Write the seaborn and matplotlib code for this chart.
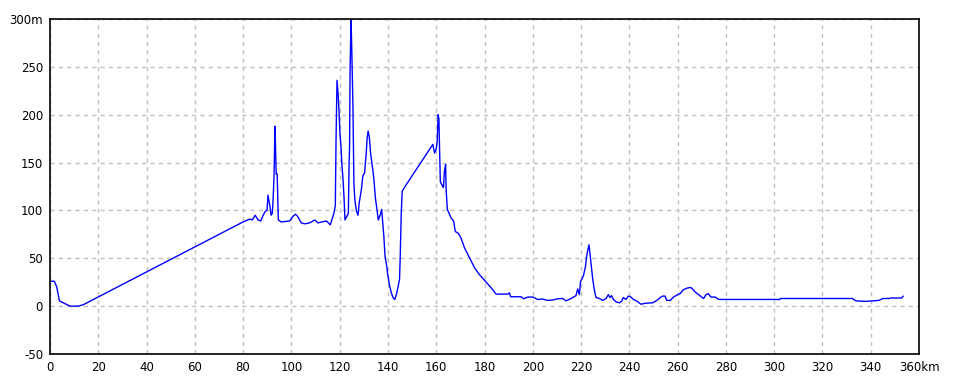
import matplotlib
matplotlib.use("Agg")
import matplotlib.pyplot as plt
import seaborn as sns
import pandas as pd

km = [0, 1.8, 2.8, 3.9, 5.9, 8.3, 11.7, 13.8,
      80, 82.8, 83.8, 85, 86.2, 87.3, 88.3, 89.2, 89.9, 90.3, 90.7, 91.2, 91.6, 92.1, 92.4, 92.8,
      93.2, 93.4, 93.7, 94.1, 94.6, 95.8, 99.3, 100.7, 101.7, 102.5, 104.1, 105.5, 107.6, 109.7,
      111, 114.5, 116.1, 117.6, 118.2, 118.5, 118.9, 119.4, 119.8, 120.1, 120.6, 120.9, 121.4,
      121.8, 122.2, 123.0, 123.6, 123.9, 124.1, 124.3, 124.7, 125.0, 125.2, 125.5, 125.9, 126.3,
      126.9, 127.6, 128.1, 129, 129.6, 130.3, 131, 131.4, 131.8, 132.3, 132.8, 133.4, 133.8,
      134.2, 134.8, 135.4, 136, 136.6, 137, 137.4, 137.7, 138.3, 138.8, 139.5, 139.9, 140.7,
      141.4, 142.1, 142.8, 143.5, 144.1, 144.8, 145.1, 145.5, 145.9, 147.6,
      158.6, 159.3, 160, 160.4, 160.8, 161.1, 161.4, 161.7, 162.5, 163, 163.4, 163.9, 164.1,
      164.6, 165.5, 166.2, 167.2, 167.9, 169.2, 170.3, 171.7, 173.1, 174.5, 175.9, 177.9,
      180.7, 182.8, 184.8, 189.7, 190.3, 190.8, 193.1, 195.2, 196.2, 198, 200, 202, 204.1,
      206.2, 208.3, 210.3, 212.4, 213.8, 215.9, 217.9, 218.6, 219.3, 219.8, 220.3, 221, 221.8,
      222.3, 222.9, 223.3, 223.6, 224.1, 224.8, 225.5, 226.2, 227.6, 229, 230.4, 231.3, 232,
      232.6, 233.4, 234.5, 235.9, 236.8, 237.5, 238.6, 239.6, 240.4, 241.7, 243, 244.8, 246.6,
      249.7, 251.4, 252.8, 253.8, 254.8, 255.5, 257, 258.3, 260, 261, 262.3, 264.1, 265.5,
      266.5, 267.6, 269, 269.9, 270.8, 271.7, 272.7, 273.8, 275.6, 277,
      302.3, 302.7, 332.4, 333.8, 338, 343.4, 345.1, 347.6, 348.3, 352.8, 353.5]

elev = [26, 26, 20, 5.5, 3, 0, 0, 1.5,
        88, 91, 90, 95, 90, 89, 95, 99, 100, 116, 110, 103, 95, 97, 110, 135,
        188, 170, 138, 138, 90, 88, 89, 94, 96, 94, 87, 86, 87, 90,
        87, 89, 85, 97, 105, 174, 236, 220, 200, 181, 165, 149, 132,
        114, 90, 94, 97, 149, 165, 243, 300, 270, 243, 208, 128, 111,
        100, 95, 108, 122, 136, 139, 160, 176, 183, 176, 160, 149, 141,
        132, 113, 102, 90, 94, 97, 101, 92, 73, 52, 42, 33, 21,
        14, 9, 7, 12, 19, 28, 53, 96, 120, 127,
        169, 160, 164, 172, 200, 196, 164, 130, 126, 124, 141, 148, 122,
        101, 96, 92, 89, 78, 76, 71, 61, 54, 47, 40, 33,
        25, 19, 12.6, 12.6, 14, 9.8, 9.8, 9.8, 7.7, 9.5, 9.5, 7, 7.4,
        6, 6.4, 7.7, 8, 5.5, 8, 11, 18, 12, 26, 28, 32, 41,
        52, 60, 64, 57, 45, 29, 17, 9, 8, 6, 8, 12, 9,
        11, 7, 4.5, 3.5, 5, 9, 7, 10.5, 10, 7, 5.5, 2, 3,
        3.5, 6, 9, 10.5, 10.5, 6, 6, 9.5, 12, 13, 17, 19, 19.5,
        17, 14, 11.5, 9.5, 8, 12, 13, 9.5, 9.5, 7,
        7, 8, 8, 5.5, 5, 6, 8, 8, 8.5, 8.5, 10.5]

x_ticks = list(range(0, 361, 20))
x_labels = [str(v) for v in x_ticks[:-1]] + ["360km"]
y_ticks = list(range(-50, 301, 50))
y_labels = [str(v) for v in y_ticks[:-1]] + ["300m"]

df = pd.DataFrame({"km": km, "elev": elev})

sns.set_style("white")
fig = plt.figure(figsize=(9.6, 3.84), dpi=100)
ax = fig.add_axes([50 / 960, (384 - 354) / 384, 869 / 960, 335 / 384])

sns.lineplot(data=df, x="km", y="elev", ax=ax, color="#0000FF", linewidth=1.0,
             estimator=None, sort=False)

ax.set_xlim(0, 360)
ax.set_ylim(-50, 300)
ax.set_xticks(x_ticks)
ax.set_xticklabels(x_labels)
ax.set_yticks(y_ticks)
ax.set_yticklabels(y_labels)
ax.set_xlabel("")
ax.set_ylabel("")
ax.grid(True, color="#c0c0c0", linestyle=(0, (3, 3)), linewidth=1.0)
ax.set_axisbelow(True)
ax.tick_params(axis="both", length=0, labelsize=8.5, colors="black")
ax.tick_params(axis="x", pad=5)
ax.tick_params(axis="y", pad=5)
for s in ax.spines.values():
    s.set_visible(True)
    s.set_color("black")
    s.set_linewidth(1.2)

fig.savefig("out.png", dpi=100, facecolor="white")
